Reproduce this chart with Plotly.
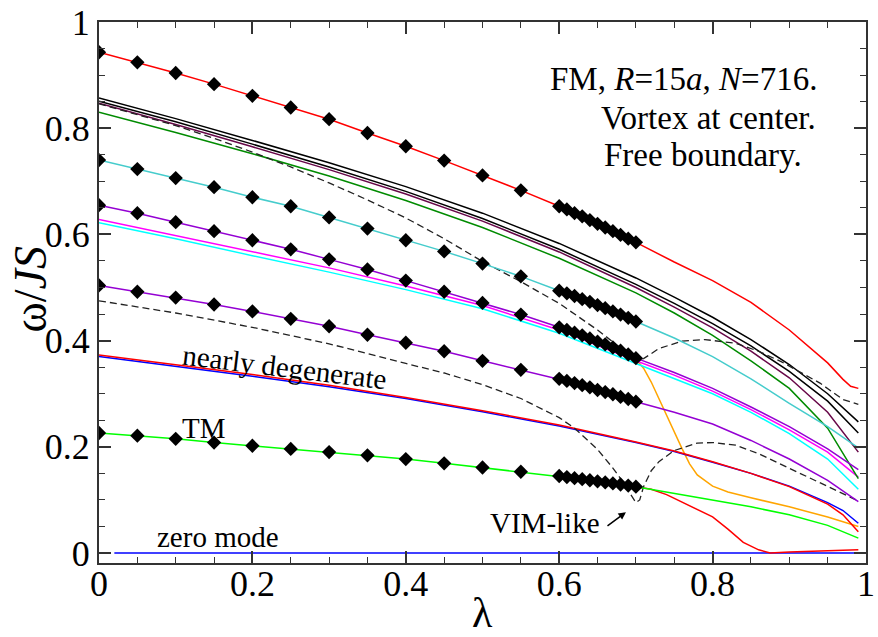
import plotly.graph_objects as go

# ---------------- data ----------------
# lambda positions of simulation points (diamonds)
x_pts = [0, 0.05, 0.1, 0.15, 0.2, 0.25, 0.3, 0.35, 0.4, 0.45, 0.5, 0.55,
         0.6, 0.61, 0.62, 0.63, 0.64, 0.65, 0.66, 0.67, 0.68, 0.69, 0.7]

red_top_pts = [0.943, 0.924, 0.904, 0.883, 0.861, 0.839, 0.817, 0.791, 0.766, 0.739, 0.711, 0.683,
               0.653, 0.647, 0.640, 0.634, 0.627, 0.620, 0.613, 0.606, 0.599, 0.592, 0.585]
turq_pts = [0.740, 0.723, 0.706, 0.689, 0.670, 0.653, 0.632, 0.611, 0.589, 0.568, 0.545, 0.521,
            0.494, 0.489, 0.484, 0.478, 0.473, 0.467, 0.461, 0.455, 0.449, 0.443, 0.436]
violet1_pts = [0.655, 0.640, 0.623, 0.606, 0.589, 0.572, 0.553, 0.534, 0.513, 0.492, 0.471, 0.449,
               0.425, 0.420, 0.415, 0.410, 0.404, 0.398, 0.393, 0.387, 0.381, 0.374, 0.367]
violet2_pts = [0.504, 0.492, 0.481, 0.468, 0.455, 0.441, 0.427, 0.411, 0.396, 0.380, 0.362, 0.345,
               0.328, 0.324, 0.320, 0.316, 0.312, 0.307, 0.303, 0.299, 0.294, 0.290, 0.285]
green_pts = [0.226, 0.221, 0.215, 0.208, 0.202, 0.196, 0.190, 0.184, 0.177, 0.169, 0.161, 0.153,
             0.145, 0.143, 0.141, 0.139, 0.137, 0.135, 0.133, 0.131, 0.129, 0.127, 0.125]

# continuation of the branches beyond lambda = 0.7
x_ext = [0.7, 0.75, 0.8, 0.85, 0.9, 0.95, 0.99]
x_ext_red = [0.7, 0.75, 0.8, 0.85, 0.9, 0.95, 0.97, 0.98, 0.99]
red_top_ext = [0.585, 0.548, 0.513, 0.472, 0.42, 0.358, 0.327, 0.314, 0.31]
turq_ext = [0.436, 0.405, 0.37, 0.328, 0.282, 0.238, 0.198]
violet1_ext = [0.367, 0.34, 0.31, 0.275, 0.238, 0.196, 0.157]
violet2_ext = [0.285, 0.265, 0.243, 0.212, 0.177, 0.137, 0.097]
green_ext = [0.125, 0.112, 0.1, 0.087, 0.072, 0.052, 0.028]

# theory curves
x_th = [0, 0.1, 0.2, 0.3, 0.4, 0.5, 0.6, 0.7, 0.75, 0.8, 0.85, 0.9, 0.95, 0.99]
black1 = [0.857, 0.818, 0.777, 0.735, 0.69, 0.64, 0.583, 0.518, 0.482, 0.444, 0.402, 0.355, 0.3, 0.247]
black2 = [0.851, 0.812, 0.77, 0.727, 0.681, 0.63, 0.572, 0.506, 0.47, 0.432, 0.39, 0.342, 0.286, 0.226]
maroon = [0.847, 0.807, 0.765, 0.722, 0.676, 0.625, 0.567, 0.5, 0.463, 0.424, 0.38, 0.33, 0.265, 0.19]
green4 = [0.83, 0.792, 0.752, 0.71, 0.664, 0.613, 0.555, 0.49, 0.452, 0.41, 0.362, 0.31, 0.235, 0.14]
magenta = [0.628, 0.598, 0.567, 0.537, 0.503, 0.466, 0.42, 0.362, 0.335, 0.305, 0.27, 0.232, 0.19, 0.143]
cyan = [0.622, 0.592, 0.56, 0.529, 0.496, 0.46, 0.414, 0.357, 0.33, 0.3, 0.265, 0.225, 0.177, 0.12]

x_nd = [0, 0.1, 0.2, 0.3, 0.4, 0.5, 0.6, 0.7, 0.75, 0.8, 0.85, 0.9, 0.95, 0.97, 0.99]
red_nd = [0.373, 0.355, 0.336, 0.316, 0.293, 0.268, 0.241, 0.209, 0.192, 0.172, 0.15, 0.125, 0.092, 0.072, 0.04]
blue_nd = [0.370, 0.352, 0.333, 0.313, 0.291, 0.266, 0.239, 0.208, 0.191, 0.171, 0.15, 0.126, 0.095, 0.08, 0.056]

x_dash1 = [0, 0.05, 0.1, 0.15, 0.2, 0.25, 0.3, 0.35, 0.4, 0.45, 0.5, 0.55, 0.6, 0.65, 0.7,
           0.71, 0.73, 0.76, 0.79, 0.83, 0.86, 0.89, 0.94, 0.97, 0.99]
dash1 = [0.846, 0.826, 0.805, 0.781, 0.755, 0.727, 0.697, 0.665, 0.631, 0.592, 0.549, 0.511, 0.47, 0.42, 0.364,
         0.366, 0.385, 0.399, 0.402, 0.395, 0.38, 0.36, 0.32, 0.289, 0.28]

x_dash2 = [0, 0.1, 0.2, 0.3, 0.4, 0.45, 0.5, 0.55, 0.6, 0.62, 0.65, 0.67, 0.68, 0.69, 0.7,
           0.705, 0.71, 0.72, 0.73, 0.75, 0.78, 0.8, 0.83, 0.86, 0.9, 0.95, 0.99]
dash2 = [0.475, 0.452, 0.425, 0.394, 0.357, 0.339, 0.317, 0.291, 0.255, 0.235, 0.195, 0.16, 0.14, 0.118, 0.095,
         0.1, 0.125, 0.155, 0.172, 0.193, 0.207, 0.208, 0.203, 0.187, 0.16, 0.125, 0.098]

x_orange = [0.7, 0.71, 0.72, 0.73, 0.74, 0.75, 0.76, 0.77, 0.78, 0.8, 0.82, 0.85, 0.9, 0.95, 0.99]
orange = [0.365, 0.348, 0.322, 0.29, 0.258, 0.228, 0.197, 0.168, 0.147, 0.126, 0.115, 0.104, 0.087, 0.068, 0.05]

x_red_low = [0.7, 0.72, 0.74, 0.76, 0.78, 0.8, 0.82, 0.84, 0.86, 0.875, 0.9, 0.95, 0.99]
red_low = [0.125, 0.12, 0.11, 0.096, 0.083, 0.068, 0.045, 0.02, 0.006, 0.0, 0.002, 0.004, 0.006]

x_zero = [0.02, 0.99]
zero_mode = [0, 0]

x_ticks = [0, 0.2, 0.4, 0.6, 0.8, 1]
x_ticklabels = ["0", "0.2", "0.4", "0.6", "0.8", "1"]
y_ticks = [0, 0.2, 0.4, 0.6, 0.8, 1]
y_ticklabels = ["0", "0.2", "0.4", "0.6", "0.8", "1"]

# ---------------- figure ----------------
RED = "#ff0000"; GREEN = "#00ff00"; BLUE = "#0000ff"; VIOLET = "#9400d3"
CYAN = "#00ffff"; MAGENTA = "#ff00ff"; ORANGE = "#ffa500"; MAROON = "#670748"
TURQ = "#45cccc"; GREEN4 = "#008b00"; BLACK = "#000000"
LW = 1.5
SERIF = "'Liberation Serif', 'Times New Roman', Times, serif"
AXC = "#333333"

fig = go.Figure()

def line(x, y, color, dash="solid", width=LW):
    fig.add_trace(go.Scatter(x=x, y=y, mode="lines", line=dict(color=color, width=width, dash=dash),
                             hoverinfo="skip", showlegend=False))

def pts(x, y, color):
    fig.add_trace(go.Scatter(x=x, y=y, mode="lines+markers", line=dict(color=color, width=LW),
                             marker=dict(symbol="diamond", size=11, color=BLACK),
                             hoverinfo="skip", showlegend=False))

line(x_zero, zero_mode, BLUE)
line(x_red_low, red_low, RED)
line(x_orange, orange, ORANGE)
line(x_nd, blue_nd, BLUE)
line(x_nd, red_nd, RED)
line(x_dash2, dash2, "#222222", dash="7px,4px", width=1.3)
line(x_th, cyan, CYAN)
line(x_th, magenta, MAGENTA)
line(x_th, green4, GREEN4)
line(x_th, maroon, MAROON)
line(x_th, black2, BLACK)
line(x_th, black1, BLACK)
line(x_dash1, dash1, "#222222", dash="7px,4px", width=1.3)

line(x_ext, green_ext, GREEN)
line(x_ext, violet2_ext, VIOLET)
line(x_ext, violet1_ext, VIOLET)
line(x_ext, turq_ext, TURQ)
line(x_ext_red, red_top_ext, RED)

pts(x_pts, green_pts, GREEN)
pts(x_pts, violet2_pts, VIOLET)
pts(x_pts, violet1_pts, VIOLET)
pts(x_pts, turq_pts, TURQ)
pts(x_pts, red_top_pts, RED)

# invisible trace so the mirrored tick axes are drawn
fig.add_trace(go.Scatter(x=[0], y=[0], xaxis="x2", yaxis="y2", mode="markers",
                         marker=dict(opacity=0), hoverinfo="skip", showlegend=False))

ann = []
def text(x, y, s, size=29, angle=0, xanchor="center", yanchor="middle"):
    ann.append(dict(x=x, y=y, xref="x", yref="y", text=s, showarrow=False, textangle=angle,
                    xanchor=xanchor, yanchor=yanchor, font=dict(family=SERIF, size=size, color=BLACK)))

text(0.939, 0.892, "FM, <i>R</i>=15<i>a</i>, <i>N</i>=716.", size=33, xanchor="right")
text(0.938, 0.819, "Vortex at center.", size=33, xanchor="right")
text(0.919, 0.749, "Free boundary.", size=33, xanchor="right")
text(0.155, 0.030, "zero mode")
text(0.137, 0.236, "TM")
text(0.242, 0.351, "nearly degenerate", angle=7)
text(0.582, 0.057, "VIM-like")

ann.append(dict(x=0.687, y=0.077, ax=0.661, ay=0.049, xref="x", yref="y", axref="x", ayref="y",
                text="", showarrow=True, arrowhead=2, arrowsize=1, arrowwidth=1.5,
                arrowcolor=BLACK, standoff=0, startstandoff=0))

# axis titles
ann.append(dict(x=0.5, y=-0.092, xref="paper", yref="paper", text="λ", showarrow=False,
                xanchor="center", yanchor="middle", font=dict(family=SERIF, size=42, color=BLACK)))
ann.append(dict(x=-0.089, y=0.505, xref="paper", yref="paper", text="ω/<i>JS</i>", showarrow=False,
                textangle=-90, xanchor="center", yanchor="middle",
                font=dict(family=SERIF, size=46, color=BLACK)))

minor = dict(dtick=0.05, ticks="inside", ticklen=6, tickwidth=1.4, tickcolor=AXC)
axis_common = dict(showgrid=False, zeroline=False, showline=True, linecolor=AXC, linewidth=2,
                   ticks="inside", ticklen=12, tickwidth=1.6, tickcolor=AXC, minor=minor)
label_font = dict(family=SERIF, size=36, color=BLACK)

fig.update_layout(
    width=878, height=637,
    margin=dict(l=99, r=3, t=22, b=74),
    paper_bgcolor="white", plot_bgcolor="white",
    xaxis=dict(range=[0, 1], tickvals=x_ticks, ticktext=x_ticklabels, mirror=True,
               tickfont=label_font, ticklabeloverflow="allow", ticklabelstandoff=-12, **axis_common),
    yaxis=dict(range=[-0.0188, 1], tickvals=y_ticks, ticktext=y_ticklabels, mirror=True,
               tickfont=label_font, ticklabeloverflow="allow", **axis_common),
    xaxis2=dict(range=[0, 1], overlaying="x", side="top", tickvals=x_ticks, showticklabels=False,
                **axis_common),
    yaxis2=dict(range=[-0.0188, 1], overlaying="y", side="right", tickvals=y_ticks, showticklabels=False,
                **axis_common),
    annotations=ann,
)

fig.write_html("out.html")
